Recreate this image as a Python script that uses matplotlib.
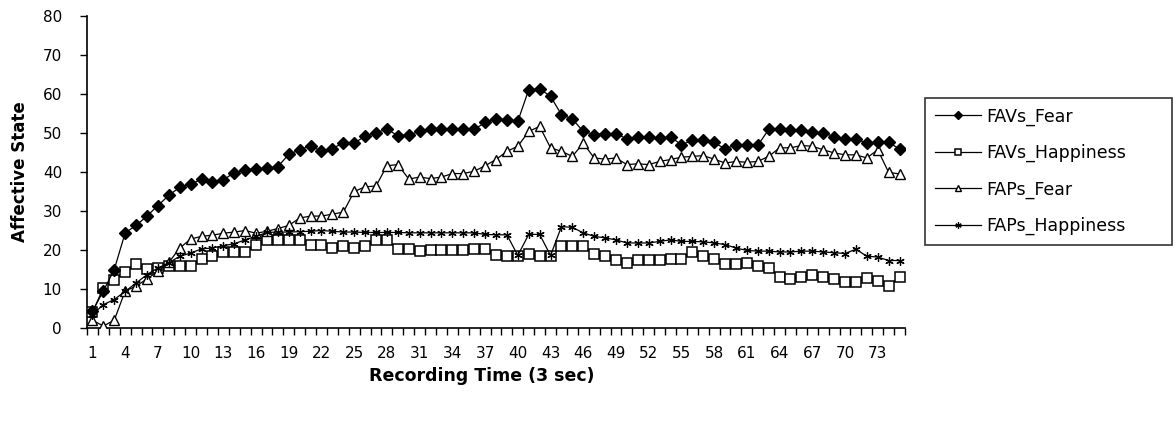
import matplotlib
matplotlib.use("Agg")
import matplotlib.pyplot as plt
import numpy as np

plt.rcParams['font.family'] = ['DejaVu Sans']

time_steps = list(range(1, 76))
tick_labels = [str(v) for v in range(1, 76, 3)]

favs_fear = [4.3, 9.5, 15, 24.4, 26.3, 28.7, 31.4, 34, 36.1, 36.9,
             38.1, 37.5, 38, 39.8, 40.5, 40.8, 41, 41.4, 44.5, 45.7,
             46.7, 45.3, 46, 47.5, 47.4, 49.2, 50.1, 51, 49.3, 49.5,
             50.4, 50.9, 51, 51, 51, 50.9, 52.7, 53.6, 53.4, 53,
             61.1, 61.3, 59.4, 54.7, 53.6, 50.4, 49.6, 49.8, 49.8, 48.5,
             49, 49, 48.7, 49, 47, 48.1, 48.1, 47.6, 45.9, 47,
             47, 46.8, 50.9, 50.9, 50.7, 50.7, 50.2, 50, 49.1, 48.5,
             48.5, 47.4, 47.6, 47.6, 45.9]

favs_happiness = [4, 10.3, 12.4, 14.3, 16.3, 15.1, 15.5, 15.8, 15.8, 15.8,
                  17.8, 18.5, 19.4, 19.5, 19.6, 21.4, 22.6, 22.6, 22.6, 22.6,
                  21.4, 21.4, 20.4, 20.9, 20.4, 21, 22.5, 22.5, 20.3, 20.2,
                  19.7, 20.1, 20.1, 20.1, 20.1, 20.3, 20.3, 18.8, 18.4, 18.4,
                  19, 18.4, 18.4, 20.9, 20.9, 20.9, 19, 18.4, 17.4, 16.7,
                  17.4, 17.4, 17.4, 17.8, 17.8, 19.5, 18.4, 17.8, 16.4, 16.4,
                  16.7, 15.8, 15.4, 13.2, 12.6, 13.1, 13.7, 13.1, 12.6, 11.7,
                  11.7, 12.8, 12.1, 10.7, 13.1]

faps_fear = [2, 0.5, 2, 9.5, 10.7, 12.6, 14.5, 16.8, 20.5, 22.8,
             23.5, 23.8, 24.3, 24.6, 25, 24.3, 24.8, 25.5, 26.3, 28.2,
             28.7, 28.7, 29.2, 29.7, 35, 36.2, 36.4, 41.6, 41.9, 38.2,
             38.7, 38.3, 38.7, 39.6, 39.6, 40.2, 41.6, 43.2, 45.3, 46.6,
             50.4, 51.7, 46.2, 45.3, 44, 47.4, 43.6, 43.3, 43.6, 41.9,
             42.1, 41.9, 42.7, 43.2, 43.8, 44, 44.2, 43.3, 42.3, 42.7,
             42.5, 42.7, 44, 46.2, 46.2, 46.8, 46.6, 45.7, 44.9, 44.4,
             44.4, 43.6, 45.7, 39.9, 39.5]

faps_happiness = [3.4, 6, 7.3, 9.4, 11.5, 13.7, 15.4, 16.7, 18.4, 19.2,
                  20.3, 20.5, 21.1, 21.6, 22.6, 23.5, 24.5, 24.6, 24.6, 24.7,
                  24.8, 25, 24.8, 24.6, 24.6, 24.5, 24.5, 24.5, 24.5, 24.4,
                  24.4, 24.4, 24.4, 24.4, 24.4, 24.4, 24, 23.9, 23.9, 18.6,
                  24, 24, 18.6, 26, 25.8, 24.4, 23.5, 23.1, 22.6, 21.8,
                  21.8, 21.8, 22.2, 22.6, 22.2, 22.2, 22.1, 21.8, 21.4, 20.5,
                  19.9, 19.7, 19.7, 19.5, 19.5, 19.7, 19.7, 19.5, 19.3, 19.1,
                  20.2, 18.4, 18.2, 17.3, 17.3]

W, H = 1175, 423
fig = plt.figure(figsize=(W / 100, H / 100), dpi=100)
ax = fig.add_axes([87 / W, 1 - 328 / H, (905 - 87) / W, (328 - 16) / H])

lw = 0.9
ax.plot(time_steps, favs_fear, color='black', lw=lw, marker='D', ms=6.5,
        mfc='black', mec='black', label='FAVs_Fear', zorder=5)
ax.plot(time_steps, favs_happiness, color='black', lw=lw, marker='s', ms=7.8,
        mfc='white', mec='black', mew=1.1, label='FAVs_Happiness', zorder=3)
ax.plot(time_steps, faps_fear, color='black', lw=lw, marker='^', ms=7.6,
        mfc='white', mec='black', mew=1.0, label='FAPs_Fear', zorder=4)
ax.plot(time_steps, faps_happiness, color='black', lw=lw, marker=(6, 2, 0), ms=6,
        mfc='black', mec='black', mew=0.9, label='FAPs_Happiness', zorder=4)

ax.set_xlim(0.5, 75.5)
ax.set_ylim(0, 80)
ax.set_yticks(np.arange(0, 81, 10))
ax.set_xticks(list(range(1, 76, 3)))
ax.set_xticklabels(tick_labels)
ax.set_xticks(np.arange(0.5, 76, 1), minor=True)
ax.tick_params(axis='x', which='major', length=0, pad=13, labelsize=11)
ax.tick_params(axis='x', which='minor', length=5, width=1, direction='out', color='black')
ax.tick_params(axis='y', which='major', length=5, width=1, direction='out', labelsize=11, pad=13)

for s in ['top', 'right']:
    ax.spines[s].set_visible(False)
for s in ['left', 'bottom']:
    ax.spines[s].set_linewidth(1.2)
    ax.spines[s].set_color('black')

ax.set_ylabel('Affective State', fontsize=12, fontweight='bold', labelpad=10)
ax.set_xlabel('Recording Time (3 sec)', fontsize=12.5, fontweight='bold', labelpad=4, x=0.482)

leg = fig.legend(loc='upper left', bbox_to_anchor=(925 / W, 1 - 245 / H, 247 / W, 147 / H),
                 mode='expand',
                 fontsize=12.5, frameon=True, fancybox=False, edgecolor='black',
                 handlelength=2.7, handletextpad=0.3, labelspacing=1.05,
                 borderpad=0.55, borderaxespad=0)
leg.get_frame().set_linewidth(1.2)
for h in leg.legend_handles:
    h.set_markersize(4.5)

fig.savefig('out.png', dpi=100)
